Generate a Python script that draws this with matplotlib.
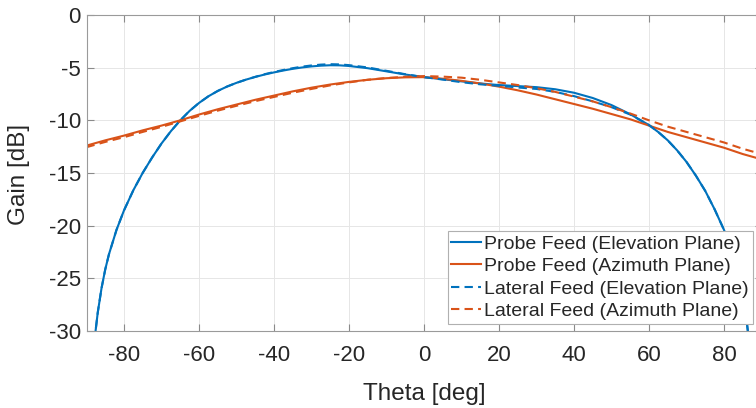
import matplotlib
matplotlib.use("Agg")
import matplotlib.pyplot as plt

plt.rcParams['font.family'] = ['Liberation Sans', 'DejaVu Sans']
plt.rcParams['axes.unicode_minus'] = False

# Probe feed, elevation plane (blue solid)
theta_pe = [-90, -89, -88, -87, -86, -85, -84, -82, -80, -77.5, -75, -72.5, -70, -67.5, -65,
            -62.5, -60, -57.5, -55, -52.5, -50, -47.5, -45, -42.5, -40, -37.5, -35, -32.5, -30,
            -27.5, -25, -22.5, -20, -15, -10, -5, 0, 5, 10, 15, 20, 25, 30, 35, 40, 45, 50, 55,
            60, 62.5, 65, 67.5, 70, 72.5, 75, 77.5, 80, 82, 84, 85, 86, 87, 88, 90]
gain_pe = [-40, -35.25, -31.25, -28.25, -25.95, -24.15, -22.7, -20.4, -18.55, -16.63, -14.98,
           -13.53, -12.2, -11.03, -10.0, -9.1, -8.35, -7.72, -7.21, -6.79, -6.44, -6.14, -5.88,
           -5.65, -5.45, -5.27, -5.11, -4.98, -4.88, -4.81, -4.77, -4.78, -4.84, -5.05, -5.35,
           -5.65, -5.9, -6.1, -6.3, -6.5, -6.65, -6.75, -6.85, -7.05, -7.38, -7.88, -8.55,
           -9.42, -10.45, -11.12, -11.9, -12.85, -13.95, -15.25, -16.7, -18.45, -20.4, -22.2,
           -24.7, -26.4, -28.9, -32, -35.5, -42]

# Lateral feed, elevation plane (blue dashed)
theta_le = theta_pe
gain_le = [-40, -35.25, -31.25, -28.25, -25.95, -24.15, -22.7, -20.4, -18.55, -16.63, -14.98,
           -13.53, -12.2, -11.03, -10.0, -9.1, -8.35, -7.72, -7.21, -6.79, -6.44, -6.14, -5.87,
           -5.62, -5.41, -5.22, -5.05, -4.9, -4.79, -4.71, -4.67, -4.69, -4.76, -4.98, -5.3,
           -5.62, -5.9, -6.13, -6.38, -6.58, -6.72, -6.88, -7.02, -7.3, -7.7, -8.2, -8.75,
           -9.45, -10.45, -11.12, -11.9, -12.85, -13.95, -15.25, -16.7, -18.45, -20.4, -22.2,
           -24.7, -26.4, -28.9, -32, -35.5, -42]

# Probe feed, azimuth plane (orange solid)
theta_az = [-90, -85, -80, -75, -70, -65, -60, -55, -50, -45, -40, -35, -30, -25, -20, -15, -10,
            -5, 0, 5, 10, 15, 20, 25, 30, 35, 40, 45, 50, 55, 60, 65, 70, 75, 80, 85, 90]
gain_pa = [-12.4, -11.9, -11.45, -10.95, -10.5, -10.0, -9.45, -8.95, -8.5, -8.05, -7.65, -7.25,
           -6.9, -6.6, -6.35, -6.15, -6.0, -5.92, -5.9, -6.05, -6.25, -6.5, -6.8, -7.15, -7.55,
           -8.0, -8.45, -8.9, -9.4, -9.9, -10.5, -11.1, -11.6, -12.1, -12.6, -13.2, -13.7]

# Lateral feed, azimuth plane (orange dashed)
gain_la = [-12.55, -12.05, -11.6, -11.1, -10.62, -10.1, -9.58, -9.08, -8.62, -8.18, -7.78, -7.38,
           -7.02, -6.68, -6.4, -6.15, -5.98, -5.87, -5.8, -5.85, -5.95, -6.15, -6.4, -6.65,
           -6.95, -7.3, -7.75, -8.2, -8.75, -9.35, -10.0, -10.6, -11.1, -11.6, -12.1, -12.7, -13.2]

xticks = [-80, -60, -40, -20, 0, 20, 40, 60, 80]
yticks = [0, -5, -10, -15, -20, -25, -30]

blue = '#0072BD'
orange = '#D95319'
txt = '#262626'

fig = plt.figure(figsize=(7.56, 4.08), dpi=100)
ax = fig.add_axes([86.5 / 756, 1 - 331 / 408, 675 / 756, 316 / 408])

ax.plot(theta_pe, gain_pe, color=blue, lw=1.5, label='Probe Feed (Elevation Plane)')
ax.plot(theta_az, gain_pa, color=orange, lw=1.5, label='Probe Feed (Azimuth Plane)')
ax.plot(theta_le, gain_le, color=blue, lw=1.5, ls=(0, (4, 2.5)), label='Lateral Feed (Elevation Plane)')
ax.plot(theta_az, gain_la, color=orange, lw=1.5, ls=(0, (4, 2.5)), label='Lateral Feed (Azimuth Plane)')

ax.set_xlim(-90, 90)
ax.set_ylim(-30, 0)
ax.set_xticks(xticks)
ax.set_yticks(yticks)
ax.grid(True, color='#e6e6e6', lw=0.7)
ax.set_axisbelow(True)
ax.tick_params(direction='in', top=True, right=True, length=5, width=0.8,
               color='#8a8a8a', labelsize=16, labelcolor=txt)
ax.tick_params(axis='x', pad=10)
ax.tick_params(axis='y', pad=4)
for s in ax.spines.values():
    s.set_color('#9a9a9a')
    s.set_linewidth(0.8)

ax.set_xlabel('Theta [deg]', fontsize=17.5, color=txt, va='center')
ax.set_ylabel('Gain [dB]', fontsize=17.5, color=txt, va='center')
ax.xaxis.set_label_coords((424 - 86.5) / 675, (331 - 394) / 316)
ax.yaxis.set_label_coords((19 - 86.5) / 675, (331 - 174) / 316)

leg = ax.legend(loc='lower right', fontsize=14,
                handlelength=1.5, handletextpad=0.2, borderpad=0.2, labelspacing=0.25,
                borderaxespad=0, frameon=True, fancybox=False, edgecolor='#b0b0b0', framealpha=1)
leg.set_bbox_to_anchor((753 / 756, 1 - 324 / 408), transform=fig.transFigure)
for t in leg.get_texts():
    t.set_color(txt)
leg.get_frame().set_linewidth(0.8)

fig.savefig('out.png', dpi=100)
